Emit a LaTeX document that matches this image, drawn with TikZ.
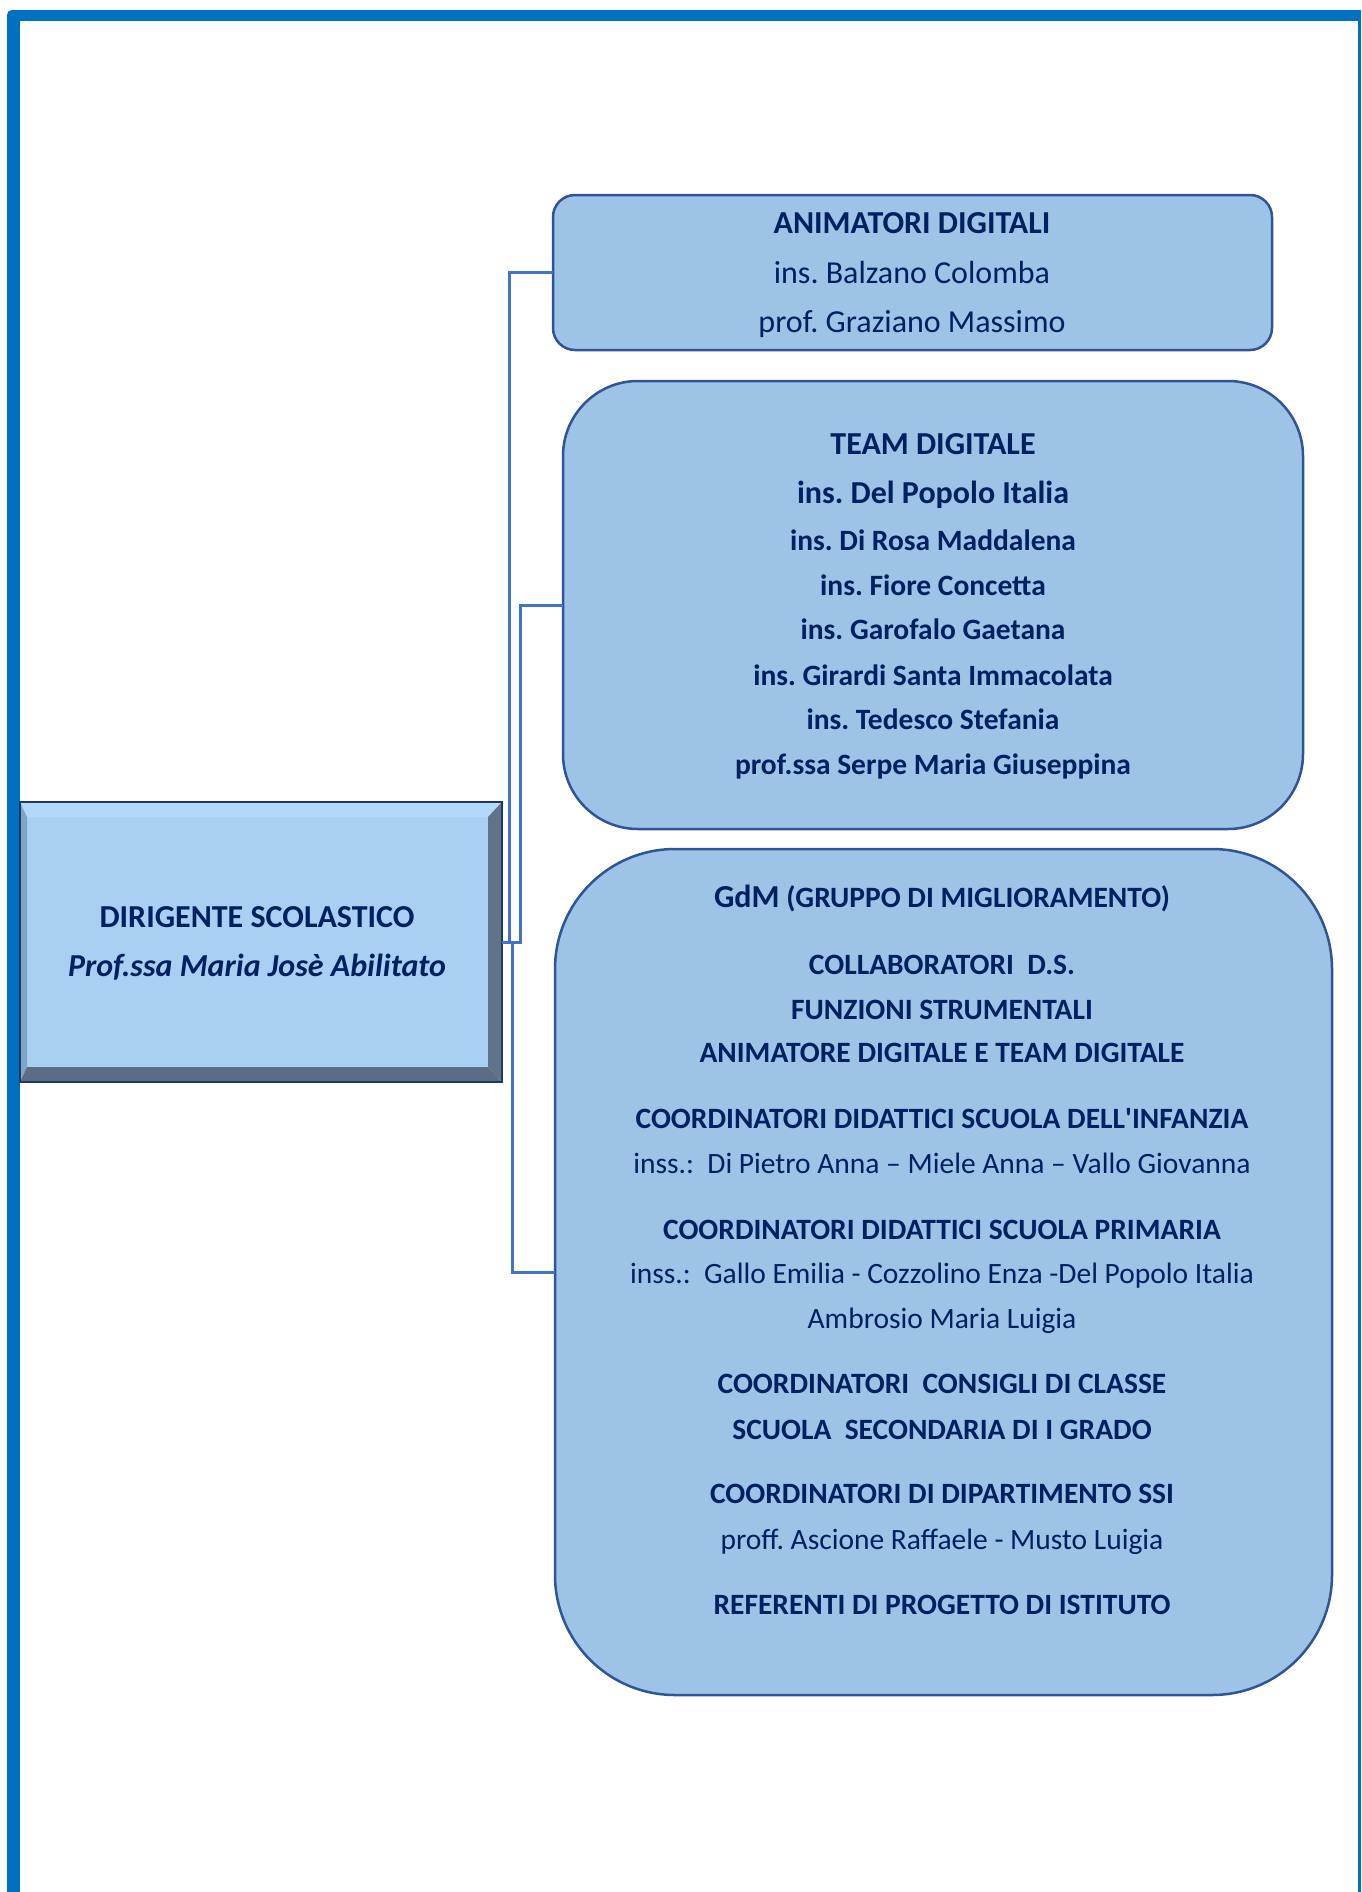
\documentclass[tikz,border=0pt]{standalone}
\usepackage{fontspec}
\setmainfont{Carlito}
\frenchspacing
\definecolor{frameblue}{HTML}{0070C0}
\definecolor{boxfill}{HTML}{9DC3E6}
\definecolor{boxline}{HTML}{2F5597}
\definecolor{conncol}{HTML}{4472C4}
\definecolor{navy}{HTML}{002060}
\definecolor{dsface}{HTML}{A9CFF3}
\definecolor{dstop}{HTML}{B2D9FC}
\definecolor{dsleft}{HTML}{7FA5C7}
\definecolor{dsright}{HTML}{5F7489}
\definecolor{dsbottom}{HTML}{5A6D82}
\definecolor{dsline}{HTML}{203864}
\begin{document}
\frenchspacing
\begin{tikzpicture}[x=1pt,y=-1pt,
  orgbox/.style={draw=boxline,fill=boxfill,line width=2.5pt,rectangle,inner sep=0pt,outer sep=0pt},
  conn/.style={draw=conncol,line width=3pt},
  txt/.style={text=navy,inner sep=0pt,anchor=base},
  bigb/.style={txt,font=\fontsize{32}{38}\selectfont\bfseries},
  bigr/.style={txt,font=\fontsize{32}{38}\selectfont},
  smb/.style={txt,font=\fontsize{29.5}{35}\selectfont\bfseries},
  smr/.style={txt,font=\fontsize{29.5}{35}\selectfont},
  dsb/.style={txt,font=\fontsize{32}{38}\selectfont\bfseries},
  dsi/.style={txt,font=\fontsize{32}{38}\selectfont\bfseries\itshape}
]
\useasboundingbox (0,0) rectangle (1361,1892);
\fill[white] (0,0) rectangle (1361,1892);
% frame
\fill[frameblue,rounded corners=5pt] (7,10) rectangle (20,30);
\fill[frameblue] (13,10) rectangle (1361,21);
\fill[frameblue] (7,16) rectangle (20,1892);
\fill[frameblue] (1358,21) rectangle (1361,1892);

% DS bevelled box
\node[rectangle,minimum width=482pt,minimum height=280pt,inner sep=0pt,outer sep=0pt] (ds) at (261,942) {};
\fill[dsface] (27,817) rectangle (488,1067);
\fill[dstop] (20,802) -- (502,802) -- (488,817) -- (27,817) -- cycle;
\fill[dsleft] (20,802) -- (27,817) -- (27,1067) -- (20,1082) -- cycle;
\fill[dsright] (502,802) -- (502,1082) -- (488,1067) -- (488,817) -- cycle;
\fill[dsbottom] (20,1082) -- (502,1082) -- (488,1067) -- (27,1067) -- cycle;
\draw[dsline,line width=1.5pt] (ds.north west) rectangle (ds.south east);
\node[dsb] (ds1) at (257,927) {DIRIGENTE SCOLASTICO};
\node[dsi] (ds2) at (257,976) {Prof.ssa Maria Josè Abilitato};

% boxes
\node[orgbox,rounded corners=22pt,minimum width=719pt,minimum height=155pt] (anim) at (912.5,272.5) {};
\node[orgbox,rounded corners=75pt,minimum width=740pt,minimum height=448pt] (team) at (933,605) {};
\node[orgbox,rounded corners=120pt,minimum width=777pt,minimum height=846pt] (gdm) at (943.5,1272) {};

% connectors
\draw[conn] (ds.east) -- ++(7,0) |- (anim.west);
\draw[conn] (ds.east) -- ++(18,0) |- (team.west);
\draw[conn] (ds.east) -- ++(10,0) |- (gdm.west);

% texts animatori
\node[bigb] (a1) at (912,233) {ANIMATORI DIGITALI};
\node[bigr] (a2) at (912,283) {ins. Balzano Colomba};
\node[bigr] (a3) at (912,332) {prof. Graziano Massimo};

% texts team
\node[bigb] (t1) at (933,454) {TEAM DIGITALE};
\node[bigb] (t2) at (933,503) {ins. Del Popolo Italia};
\node[smb] (t3) at (933,550) {ins. Di Rosa Maddalena};
\node[smb] (t4) at (933,595) {ins. Fiore Concetta};
\node[smb] (t5) at (933,639) {ins. Garofalo Gaetana};
\node[smb] (t6) at (933,685) {ins. Girardi Santa Immacolata};
\node[smb] (t7) at (933,729) {ins. Tedesco Stefania};
\node[smb] (t8) at (933,774) {prof.ssa Serpe Maria Giuseppina};

% texts gdm
\node[smb] (g1) at (942,907) {{\fontsize{32}{38}\selectfont GdM} (GRUPPO DI MIGLIORAMENTO)};
\node[smb] (g2) at (942,974) {COLLABORATORI\ \ D.S.};
\node[smb] (g3) at (942,1019) {FUNZIONI STRUMENTALI};
\node[smb] (g4) at (942,1062) {ANIMATORE DIGITALE E TEAM DIGITALE};
\node[smb] (g5) at (942,1128) {COORDINATORI DIDATTICI SCUOLA DELL\textquotesingle INFANZIA};
\node[smr] (g6) at (942,1173) {inss.:\ \ Di Pietro Anna – Miele Anna – Vallo Giovanna};
\node[smb] (g7) at (942,1239) {COORDINATORI DIDATTICI SCUOLA PRIMARIA};
\node[smr] (g8) at (942,1283) {inss.:\ \ Gallo Emilia - Cozzolino Enza -Del Popolo Italia};
\node[smr] (g9) at (942,1328) {Ambrosio Maria Luigia};
\node[smb] (g10) at (942,1393) {COORDINATORI\ \ CONSIGLI DI CLASSE};
\node[smb] (g11) at (942,1439) {SCUOLA\ \ SECONDARIA DI I GRADO};
\node[smb] (g12) at (942,1503) {COORDINATORI DI DIPARTIMENTO SSI};
\node[smr] (g13) at (942,1549) {proff. Ascione Raffaele - Musto Luigia};
\node[smb] (g14) at (942,1614) {REFERENTI DI PROGETTO DI ISTITUTO};
\end{tikzpicture}
\end{document}
